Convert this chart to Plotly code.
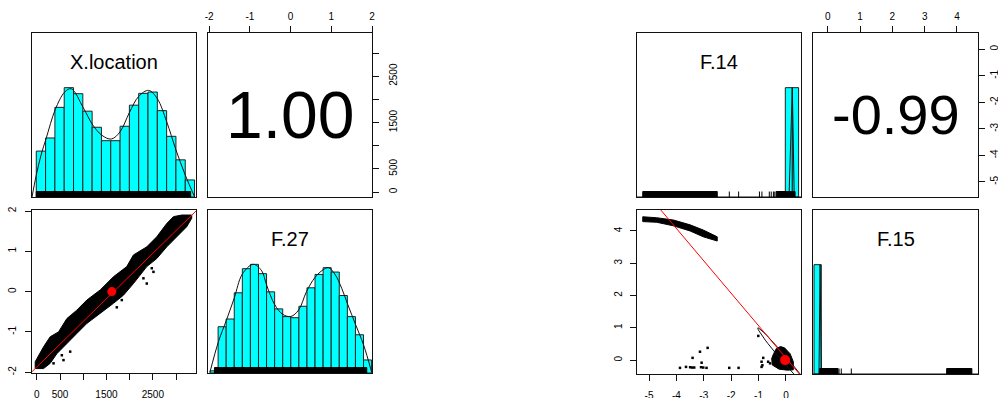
import math
import plotly.graph_objects as go

W, H = 998, 398

# ---------------- data ----------------
# X.location histogram: breaks and counts scaled to max = 1
xloc_breaks = [0, 200, 400, 600, 800, 1000, 1200, 1400, 1600, 1800, 2000,
               2200, 2400, 2600, 2800, 3000, 3200, 3400]
xloc_heights = [0.42, 0.54, 0.82, 1.00, 0.945, 0.785, 0.638, 0.515, 0.515,
                0.647, 0.84, 0.948, 0.96, 0.79, 0.555, 0.34, 0.156]
xloc_dens_x = [-92, 0, 100, 215, 408, 610, 752, 1010, 1211, 1411, 1611, 1798,
               1998, 2199, 2414, 2599, 2800, 3001, 3201, 3402]
xloc_dens_y = [0.0, 0.2, 0.38, 0.54, 0.80, 0.96, 0.99, 0.816, 0.66, 0.564, 0.53,
               0.595, 0.77, 0.92, 0.975, 0.90, 0.69, 0.43, 0.2, 0.0]
xloc_rug_dense = [[0, 3316]]

# F.27 histogram
f27_breaks = [-2.0, -1.8, -1.6, -1.4, -1.2, -1.0, -0.8, -0.6, -0.4, -0.2, 0.0,
              0.2, 0.4, 0.6, 0.8, 1.0, 1.2, 1.4, 1.6, 1.8, 2.0]
f27_heights = [0.02, 0.426, 0.497, 0.738, 0.96, 1.0, 0.914, 0.747, 0.59, 0.519,
               0.509, 0.614, 0.784, 0.907, 0.969, 0.929, 0.713, 0.519, 0.352, 0.12]
f27_dens_x = [-2.0, -1.79, -1.59, -1.40, -1.20, -0.93, -0.72, -0.60, -0.40, -0.20,
              0.0, 0.195, 0.39, 0.60, 0.80, 0.93, 1.09, 1.26, 1.41, 1.61, 1.80, 2.0]
f27_dens_y = [0.01, 0.29, 0.49, 0.69, 0.91, 1.0, 0.94, 0.81, 0.63, 0.54, 0.52,
              0.58, 0.75, 0.88, 0.95, 0.97, 0.91, 0.78, 0.63, 0.44, 0.26, 0.01]
f27_rug_dense = [[-1.89, 1.88]]

# X.location vs F.27 scatter: outline of the dense point cloud
band_upper_x = [-36, 144, 287, 467, 646, 861, 1077, 1364, 1651, 1938, 2082, 2369,
                2584, 2800, 2943, 3123, 3338]
band_upper_y = [-1.74, -1.37, -1.12, -1.0, -0.67, -0.46, -0.21, 0.04, 0.37, 0.62,
                0.91, 1.11, 1.36, 1.69, 1.86, 1.90, 1.90]
band_lower_x = [3338, 3230, 3015, 2800, 2584, 2369, 2082, 1866, 1651, 1364, 1077,
                861, 646, 431, 287, 144, -36]
band_lower_y = [1.82, 1.61, 1.36, 1.11, 0.82, 0.62, 0.20, -0.09, -0.29, -0.54,
                -0.79, -1.04, -1.29, -1.54, -1.78, -1.91, -1.91]
left_out_x = [1723, 2297, 2369, 2477, 2513, 718, 574, 359, 538, 1831, 2979, 3015]
left_out_y = [-0.39, 0.33, 0.20, 0.58, 0.49, -1.49, -1.70, -1.78, -1.58, -0.21, 1.40, 1.46]
left_smooth_x = [-108, 3431]
left_smooth_y = [-1.99, 2.0]
left_mean = [1615, 0.0]

# F.14 histogram
f14_breaks = [-0.026, 0.23, 0.46]
f14_heights = [1.0, 1.0]
f14_dens_x = [-5.44, -0.1, 0.11, 0.23, 0.30, 0.55]
f14_dens_y = [0.0, 0.0, 0.0, 1.0, 0.0, 0.0]
f14_rug_dense = [[-5.23, -2.51], [-0.36, 0.33]]
f14_rug_ticks = [-2.07, -1.73, -0.97, -0.88, -0.61, -0.54, -0.46, -0.41]

# F.15 histogram
f15_breaks = [-0.424, -0.198]
f15_heights = [1.0]
f15_dens_x = [-0.455, -0.27, -0.235, -0.2, 4.65]
f15_dens_y = [0.0, 0.0, 1.0, 0.0, 0.0]
f15_rug_dense = [[-0.25, 0.32], [3.68, 4.46]]
f15_rug_ticks = [0.35, 0.42, 0.73]

# F.14 vs F.15 scatter
arc_x = [-5.23, -4.72, -4.11, -3.50, -3.02, -2.51, -2.51, -3.02, -3.50, -4.11, -4.72, -5.23]
arc_y = [4.44, 4.41, 4.34, 4.19, 4.03, 3.82, 3.69, 3.82, 4.0, 4.16, 4.27, 4.29]
blob_x = [-0.35, -0.2, -0.05, 0.15, 0.27, 0.27, 0.05, -0.25, -0.5, -0.52, -0.45]
blob_y = [0.36, 0.42, 0.38, 0.2, -0.05, -0.3, -0.31, -0.28, -0.15, 0.05, 0.2]
right_pts_x = [-3.87, -3.65, -3.50, -3.43, -3.35, -3.41, -3.14, -3.08, -3.10, -3.02,
               -2.90, -2.86, -2.07, -1.73, -1.01, -0.83, -0.86, -0.65, -0.89, -0.89,
               -0.58]
right_pts_y = [-0.24, -0.21, -0.22, -0.23, -0.23, 0.07, 0.26, -0.08, -0.22, -0.23,
               -0.24, 0.38, -0.24, -0.24, 0.75, 0.07, -0.16, -0.05, -0.05, -0.21,
               -0.10]
right_smooth_x = [-4.57, 0.49]
right_smooth_y = [4.65, -0.43]
right_mean = [-0.03, 0.0]
right_sd = [1.0, 1.0]
right_r = -0.99

corr_texts = ["1.00", "-0.99"]
var_names = ["X.location", "F.27", "F.14", "F.15"]

# ---------------- layout helpers ----------------
FONT = "Liberation Sans, Arial, Helvetica, sans-serif"


def xd(a, b):
    return [a / W, b / W]


def yd(top, bottom):
    return [1 - bottom / H, 1 - top / H]


panels = {
    1: (32, 196, 33, 197, [-92, 3431], [0, 1.5]),
    2: (208, 372, 33, 197, [-2.03, 2.0], [-108, 3432]),
    3: (32, 196, 210, 373, [-105, 3430], [-2.02, 2.025]),
    4: (208, 372, 210, 373, [-2.05, 2.01], [0, 1.5]),
    5: (637, 801, 33, 197, [-5.44, 0.547], [0, 1.5]),
    6: (813, 978, 33, 197, [-0.455, 4.65], [-5.57, 0.615]),
    7: (637, 801, 210, 374, [-5.44, 0.55], [-0.43, 4.65]),
    8: (813, 978, 210, 374, [-0.455, 4.65], [0, 1.5]),
}

tickspec = {
    ('x', 2): dict(side='top', vals=[-2, -1, 0, 1, 2], text=['-2', '-1', '0', '1', '2'],
                   angle=0, standoff=2),
    ('y', 2): dict(side='right', vals=[0, 500, 1000, 1500, 2000, 2500, 3000],
                   text=['0', '500', '', '1500', '', '2500', ''], angle=-90, standoff=6),
    ('x', 3): dict(side='bottom', vals=[0, 500, 1000, 1500, 2000, 2500, 3000],
                   text=['0', '500', '', '1500', '', '2500', ''], angle=0, standoff=6),
    ('y', 3): dict(side='left', vals=[-2, -1, 0, 1, 2], text=['-2', '-1', '0', '1', '2'],
                   angle=-90, standoff=5),
    ('x', 6): dict(side='top', vals=[0, 1, 2, 3, 4], text=['0', '1', '2', '3', '4'],
                   angle=0, standoff=2),
    ('y', 6): dict(side='right', vals=[0, -1, -2, -3, -4, -5],
                   text=['0', '-1', '-2', '-3', '-4', '-5'], angle=-90, standoff=1),
    ('x', 7): dict(side='bottom', vals=[-5, -4, -3, -2, -1, 0],
                   text=['-5', '-4', '-3', '-2', '-1', '0'], angle=0, standoff=6),
    ('y', 7): dict(side='left', vals=[0, 1, 2, 3, 4], text=['0', '1', '2', '3', '4'],
                   angle=-90, standoff=4),
}

layout = dict(width=W, height=H, autosize=False,
              margin=dict(l=0, r=0, t=0, b=0, pad=0),
              paper_bgcolor='white', plot_bgcolor='white', showlegend=False,
              font=dict(family=FONT, color='black'))

for k, (x0, x1, y0, y1, xr, yr) in panels.items():
    sfx = '' if k == 1 else str(k)
    for ax, dom, rng in (('x', xd(x0, x1), xr), ('y', yd(y0, y1), yr)):
        other = 'y' if ax == 'x' else 'x'
        d = dict(domain=dom, range=rng, anchor=other + sfx, showline=True, mirror=True,
                 linecolor='#111', linewidth=1, showgrid=False, zeroline=False,
                 ticks='', showticklabels=False, fixedrange=True, automargin=False)
        spec = tickspec.get((ax, k))
        if spec:
            d.update(side=spec['side'], ticks='outside', ticklen=6, tickwidth=1,
                     tickcolor='#111', showticklabels=True, tickmode='array',
                     tickvals=spec['vals'], ticktext=spec['text'], tickangle=spec['angle'],
                     tickfont=dict(family=FONT, size=10, color='black'),
                     ticklabelstandoff=spec['standoff'])
        layout[ax + 'axis' + sfx] = d

fig = go.Figure(layout=layout)


def axes(k):
    return ('x' if k == 1 else 'x%d' % k), ('y' if k == 1 else 'y%d' % k)


def add_hist(k, breaks, heights, dx, dy, rug_dense, rug_ticks, shape):
    xa, ya = axes(k)
    centers = [(breaks[i] + breaks[i + 1]) / 2 for i in range(len(heights))]
    widths = [breaks[i + 1] - breaks[i] for i in range(len(heights))]
    fig.add_trace(go.Bar(x=centers, y=heights, width=widths, xaxis=xa, yaxis=ya,
                         marker=dict(color='#00FFFF', line=dict(color='#222', width=1))))
    fig.add_trace(go.Scatter(x=dx, y=dy, mode='lines', xaxis=xa, yaxis=ya,
                             line=dict(color='#111', width=1, shape=shape)))
    rh = 0.05
    for a, b in rug_dense:
        fig.add_trace(go.Scatter(x=[a, b, b, a, a], y=[0, 0, rh, rh, 0], mode='lines',
                                 fill='toself', fillcolor='black', xaxis=xa, yaxis=ya,
                                 line=dict(color='black', width=1)))
    if rug_ticks:
        tx, ty = [], []
        for t in rug_ticks:
            tx += [t, t, None]
            ty += [0, rh, None]
        fig.add_trace(go.Scatter(x=tx, y=ty, mode='lines', xaxis=xa, yaxis=ya,
                                 line=dict(color='black', width=1)))


add_hist(1, xloc_breaks, xloc_heights, xloc_dens_x, xloc_dens_y, xloc_rug_dense, [], 'spline')
add_hist(4, f27_breaks, f27_heights, f27_dens_x, f27_dens_y, f27_rug_dense, [], 'spline')
add_hist(5, f14_breaks, f14_heights, f14_dens_x, f14_dens_y, f14_rug_dense, f14_rug_ticks, 'linear')
add_hist(8, f15_breaks, f15_heights, f15_dens_x, f15_dens_y, f15_rug_dense, f15_rug_ticks, 'linear')

# empty correlation panels still need a (blank) trace so their axes are drawn
for k in (2, 6):
    xa, ya = axes(k)
    fig.add_trace(go.Scatter(x=[None], y=[None], mode='markers', xaxis=xa, yaxis=ya,
                             hoverinfo='skip'))

# ----- left scatter -----
fig.add_trace(go.Scatter(x=band_upper_x + band_lower_x + band_upper_x[:1],
                         y=band_upper_y + band_lower_y + band_upper_y[:1],
                         mode='lines', fill='toself', fillcolor='black',
                         line=dict(color='black', width=1), xaxis='x3', yaxis='y3'))
fig.add_trace(go.Scatter(x=left_out_x, y=left_out_y, mode='markers', xaxis='x3', yaxis='y3',
                         marker=dict(symbol='square', size=2.5, color='black')))
fig.add_trace(go.Scatter(x=left_smooth_x, y=left_smooth_y, mode='lines', xaxis='x3', yaxis='y3',
                         line=dict(color='red', width=1)))
fig.add_trace(go.Scatter(x=[left_mean[0]], y=[left_mean[1]], mode='markers', xaxis='x3',
                         yaxis='y3', marker=dict(size=9, color='red')))

# ----- right scatter -----
fig.add_trace(go.Scatter(x=arc_x + arc_x[:1], y=arc_y + arc_y[:1], mode='lines', fill='toself',
                         fillcolor='black', line=dict(color='black', width=1),
                         xaxis='x7', yaxis='y7'))
fig.add_trace(go.Scatter(x=blob_x + blob_x[:1], y=blob_y + blob_y[:1], mode='lines',
                         fill='toself', fillcolor='black', line=dict(color='black', width=1),
                         xaxis='x7', yaxis='y7'))
fig.add_trace(go.Scatter(x=right_pts_x, y=right_pts_y, mode='markers', xaxis='x7', yaxis='y7',
                         marker=dict(symbol='square', size=2.5, color='black')))

# correlation ellipse (psych::draw.ellipse construction, 1 sd)
seg = 51
theta = math.copysign(1 / math.sqrt(2), right_r)
a1, a2 = math.sqrt(1 + right_r), math.sqrt(1 - right_r)
ex, ey = [], []
for i in range(seg + 1):
    t = 2 * math.pi * i / seg
    c, s = math.cos(t), math.sin(t)
    px = c * a1 * theta + s * a2 * (-theta)
    py = c * a1 * theta + s * a2 * theta
    ex.append(px * right_sd[0] + right_mean[0])
    ey.append(py * right_sd[1] + right_mean[1])
fig.add_trace(go.Scatter(x=ex, y=ey, mode='lines', xaxis='x7', yaxis='y7',
                         line=dict(color='#111', width=1)))
fig.add_trace(go.Scatter(x=right_smooth_x, y=right_smooth_y, mode='lines', xaxis='x7',
                         yaxis='y7', line=dict(color='red', width=1)))
fig.add_trace(go.Scatter(x=[right_mean[0]], y=[right_mean[1]], mode='markers', xaxis='x7',
                         yaxis='y7', marker=dict(size=10, color='red')))

# ----- texts -----
annos = []
for k, txt, size in ((2, corr_texts[0], 66), (6, corr_texts[1], 56)):
    xa, ya = axes(k)
    annos.append(dict(x=0.5, y=0.5, xref=xa + ' domain', yref=ya + ' domain', text=txt,
                      showarrow=False, font=dict(family=FONT, size=size, color='black'),
                      xanchor='center', yanchor='middle'))
for k, name in zip((1, 4, 5, 8), var_names):
    xa, ya = axes(k)
    annos.append(dict(x=0.5, y=0.825, xref=xa + ' domain', yref=ya + ' domain', text=name,
                      showarrow=False, font=dict(family=FONT, size=20, color='black'),
                      xanchor='center', yanchor='middle'))
fig.update_layout(annotations=annos)

page_fix = (
    "document.documentElement.style.margin='0';"
    "document.documentElement.style.overflow='hidden';"
    "document.body.style.margin='0';"
    "document.body.style.overflow='hidden';"
    "var g=document.getElementsByClassName('plotly-graph-div')[0];"
    "g.style.position='absolute';g.style.left='0px';g.style.top='0px';"
    "g.style.overflow='hidden';"
)
fig.write_html("out.html", config={'displayModeBar': False, 'responsive': False},
               post_script=page_fix)
